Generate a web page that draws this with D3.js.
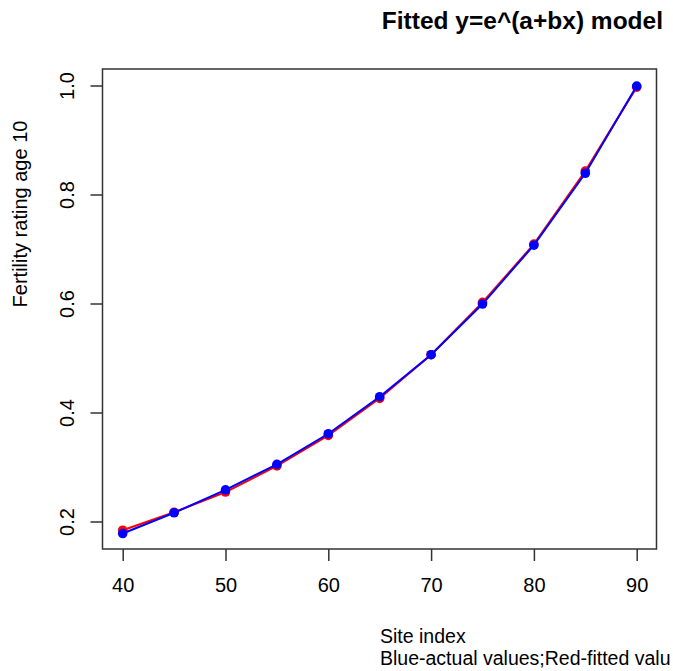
<!DOCTYPE html>
<html><head><meta charset="utf-8">
<script src="https://cdn.jsdelivr.net/npm/d3@7"></script>
<style>html,body{margin:0;padding:0;background:#fff;}svg{display:block;}</style>
</head><body>
<script>
const siteIndex = [40, 45, 50, 55, 60, 65, 70, 75, 80, 85, 90];
const actualValues = [0.178, 0.216, 0.258, 0.305, 0.361, 0.429, 0.506, 0.599, 0.707, 0.839, 0.999];
const fittedValues = [0.184, 0.217, 0.254, 0.302, 0.358, 0.426, 0.506, 0.602, 0.709, 0.843, 0.997];
const xTicks = [40, 50, 60, 70, 80, 90];
const yTicks = [0.2, 0.4, 0.6, 0.8, 1.0];
const titleText = "Fitted y=e^(a+bx) model";
const xLabel1 = "Site index";
const xLabel2 = "Blue-actual values;Red-fitted valu";
const yLabel = "Fertility rating age 10";

const W = 673, H = 671;
const box = {l: 102.5, t: 69, r: 656.5, b: 549};
const font = "'Liberation Sans', Arial, Helvetica, sans-serif";

const svg = d3.select("body").append("svg").attr("width", W).attr("height", H)
  .style("font-family", font);

const x = d3.scaleLinear().domain([40, 90]).range([122.7, 636.7]);
const y = d3.scaleLinear().domain([0.2, 1.0]).range([521.5, 85.5]);

// axes
const xAxis = d3.axisBottom(x).tickValues(xTicks).tickSize(12).tickPadding(17).tickFormat(d3.format("d"));
const gx = svg.append("g").attr("transform", `translate(0,${box.b})`).call(xAxis);
gx.select(".domain").remove();
gx.selectAll(".tick line").attr("stroke", "#333").attr("stroke-width", 1.5);
gx.selectAll(".tick text").attr("font-size", 20).attr("fill", "#000").attr("font-family", font);

const yAxis = d3.axisLeft(y).tickValues(yTicks).tickSize(12).tickFormat(d3.format(".1f"));
const gy = svg.append("g").attr("transform", `translate(${box.l},0)`).call(yAxis);
gy.select(".domain").remove();
gy.selectAll(".tick line").attr("stroke", "#333").attr("stroke-width", 1.5);
gy.selectAll(".tick text")
  .attr("font-size", 20).attr("fill", "#000").attr("font-family", font)
  .attr("x", null).attr("dy", null)
  .attr("text-anchor", "middle")
  .attr("transform", "translate(-29,0) rotate(-90)");

// box
svg.append("rect").attr("x", box.l).attr("y", box.t)
  .attr("width", box.r - box.l).attr("height", box.b - box.t)
  .attr("fill", "none").attr("stroke", "#333").attr("stroke-width", 1.5);

const line = d3.line().x(d => x(d[0])).y(d => y(d[1]));
const fitted = siteIndex.map((s, i) => [s, fittedValues[i]]);
const actual = siteIndex.map((s, i) => [s, actualValues[i]]);

svg.append("path").datum(fitted).attr("d", line).attr("fill", "none")
  .attr("stroke", "#ff0000").attr("stroke-width", 2);
svg.selectAll("circle.fit").data(fitted).enter().append("circle").attr("class", "fit")
  .attr("cx", d => x(d[0])).attr("cy", d => y(d[1])).attr("r", 4.8).attr("fill", "#ff0000");

svg.append("path").datum(actual).attr("d", line).attr("fill", "none")
  .attr("stroke", "#0000ff").attr("stroke-width", 2);
svg.selectAll("circle.act").data(actual).enter().append("circle").attr("class", "act")
  .attr("cx", d => x(d[0])).attr("cy", d => y(d[1])).attr("r", 4.8).attr("fill", "#0000ff");

// title
svg.append("text").attr("x", 663).attr("y", 29).attr("text-anchor", "end")
  .attr("font-size", 24.5).attr("font-weight", "bold").text(titleText);

// x labels
svg.append("text").attr("x", 380).attr("y", 643).attr("font-size", 19.5).text(xLabel1);
svg.append("text").attr("x", 380).attr("y", 665).attr("font-size", 19.5).text(xLabel2);

// y label
svg.append("text").attr("transform", "translate(27,214) rotate(-90)")
  .attr("text-anchor", "middle").attr("font-size", 20).text(yLabel);
</script>
</body></html>
